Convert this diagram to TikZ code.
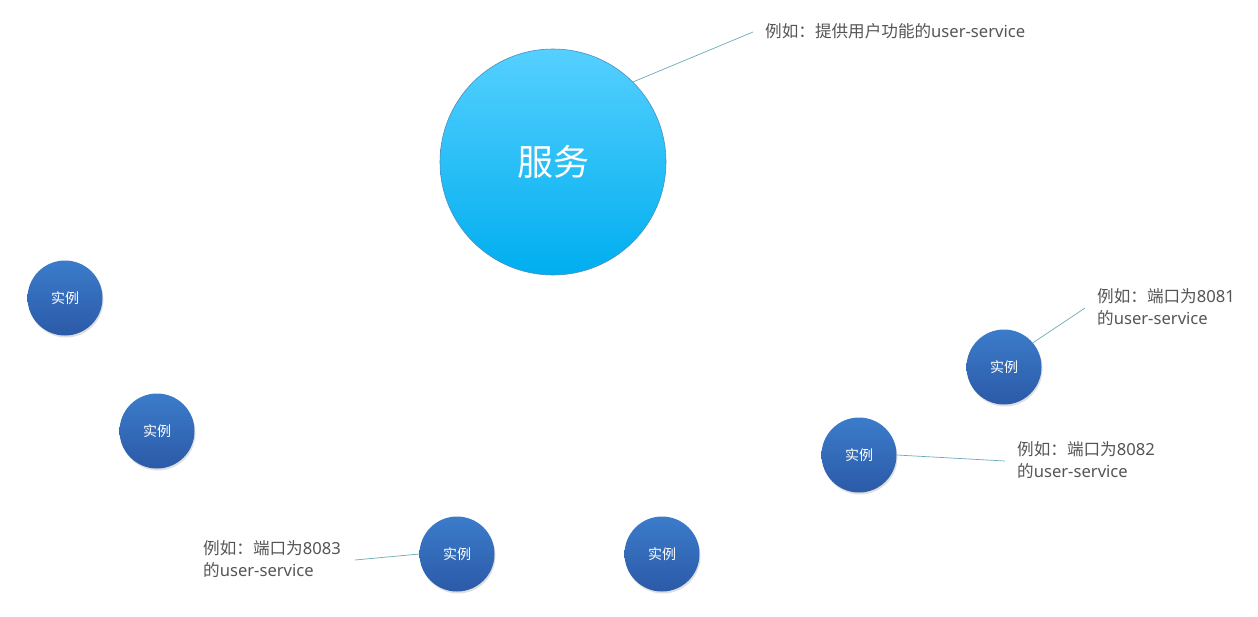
\documentclass[tikz,border=0pt]{standalone}
\usepackage{fontspec}
\newfontfamily\cjk{Noto Sans CJK SC}
\newfontfamily\lat{Noto Sans}
\usetikzlibrary{shadows}
\definecolor{svctop}{HTML}{55D0FF}
\definecolor{svcbot}{HTML}{00AEEF}
\definecolor{svcedge}{HTML}{4A8FC2}
\definecolor{insttop}{HTML}{3B7CCA}
\definecolor{instbot}{HTML}{2B5AA8}
\definecolor{calltext}{HTML}{555555}
\definecolor{callline}{HTML}{6AA9BA}
\tikzset{
  service/.style={circle, minimum size=226pt, inner sep=0pt, top color=svctop, bottom color=svcbot, draw=svcedge, line width=0.6pt, text=white, font=\cjk\fontsize{36}{40}\selectfont},
  instance/.style={circle, minimum size=75pt, inner sep=0pt, top color=insttop, bottom color=instbot, draw=none, text=white, font=\cjk\fontsize{14}{15}\selectfont, drop shadow={shadow xshift=1pt, shadow yshift=-2pt, opacity=0.25}},
  callout/.style={text=calltext, font=\cjk\fontsize{16.6}{22}\selectfont, inner sep=0pt, align=left},
  leader/.style={draw=callline, line width=0.7pt}
}
\newcommand{\us}{{\lat user-service}}
\begin{document}
\begin{tikzpicture}[x=1pt,y=-1pt]
\useasboundingbox (0,0) rectangle (1258,616);
\node[service] (svc) at (553,162) {服务};
\node[instance] (i1) at (65,298) {实例};
\node[instance] (i2) at (157,431) {实例};
\node[instance] (i3) at (1004,367) {实例};
\node[instance] (i4) at (859,455) {实例};
\node[instance] (i5) at (457,554) {实例};
\node[instance] (i6) at (662,554) {实例};
\node[callout, anchor=west] (t0) at (765,31) {例如：提供用户功能的\us};
\node[callout, anchor=west] (t1) at (1097,307) {例如：端口为{\lat 8081}\\的\us};
\node[callout, anchor=west] (t2) at (1017,460) {例如：端口为{\lat 8082}\\的\us};
\node[callout, anchor=west] (t3) at (203,559) {例如：端口为{\lat 8083}\\的\us};
\coordinate (c0) at (753,32);
\coordinate (c1) at (1085,308);
\coordinate (c2) at (1005,461);
\coordinate (c3) at (355,560);
\draw[leader] (svc.45) -- (c0);
\draw[leader] (i3.40) -- (c1);
\draw[leader] (i4.east) -- (c2);
\draw[leader] (i5.west) -- (c3);
\end{tikzpicture}
\end{document}
